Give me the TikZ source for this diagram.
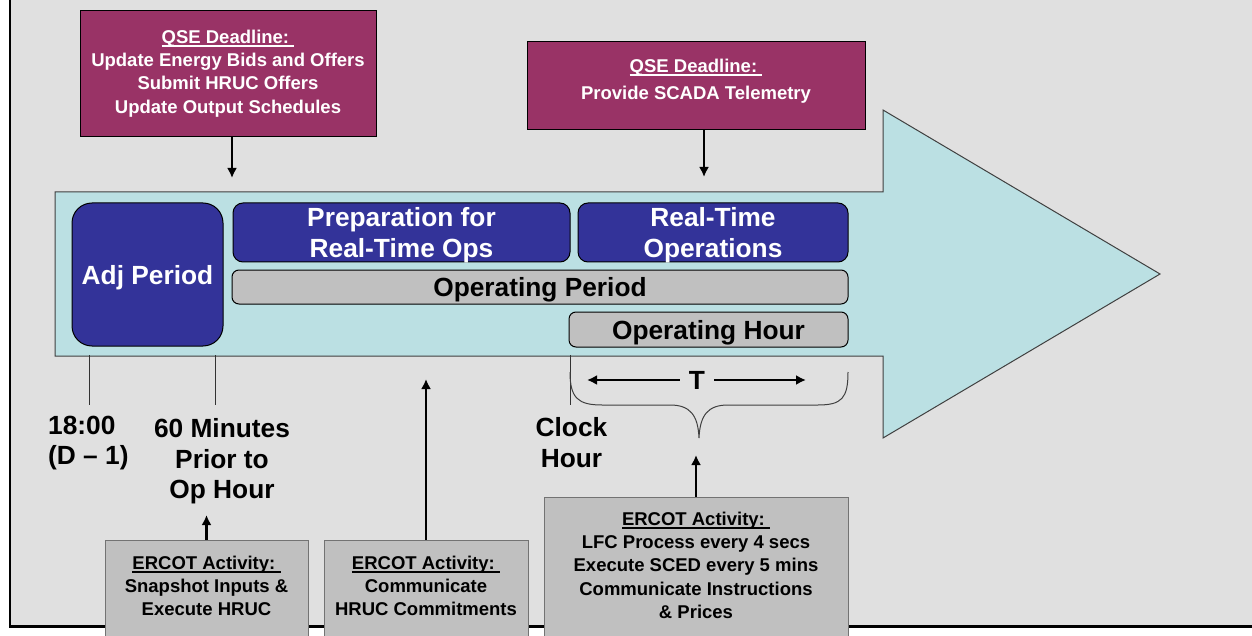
\documentclass[tikz,border=0pt]{standalone}
\usepackage{fontspec}
\setmainfont{Liberation Sans}
\usetikzlibrary{positioning,arrows.meta}

\definecolor{framegray}{HTML}{E0E0E0}
\definecolor{arrowteal}{HTML}{BBE0E3}
\definecolor{qsered}{HTML}{993366}
\definecolor{opblue}{HTML}{333399}
\definecolor{ercotgray}{HTML}{C0C0C0}

\newcommand{\boxfont}{\fontsize{18.5}{23.4}\selectfont\bfseries}
\newcommand{\labelfont}{\fontsize{26.3}{30.5}\selectfont\bfseries}
\newcommand{\ulhead}[1]{\setbox0\hbox{#1}\rlap{\rule[-4pt]{\wd0}{1.8pt}}\box0}

\begin{document}
\begin{tikzpicture}[x=1pt, y=-1pt,
    qsebox/.style={draw=black, fill=qsered, line width=1pt, inner sep=0pt},
    qsetext/.style={text=white, font=\boxfont, align=center, inner sep=0pt},
    phase/.style={draw=black, fill=opblue, line width=1pt, rounded corners=10pt,
                  text=white, font=\labelfont, align=center, inner sep=0pt, text depth=0pt},
    period/.style={draw=black, fill=ercotgray, line width=1pt, rounded corners=7pt,
                   font=\labelfont, inner sep=0pt, text depth=0pt},
    ercbox/.style={draw=black!55, fill=ercotgray, line width=1pt, inner sep=0pt},
    erctext/.style={font=\boxfont, align=center, inner sep=0pt},
    timelabel/.style={font=\labelfont, align=center, inner sep=0pt},
    arr/.style={-{Latex[length=10pt,width=10pt]}, line width=2.5pt},
    spanarr/.style={-{Latex[length=10pt,width=10pt]}, line width=2pt},
    tick/.style={draw=black!80, line width=1pt}]

        \useasboundingbox (0,0) rectangle (1252,636);

        % Gray frame with left and bottom border
        \fill[framegray] (10,-10) rectangle (1262,626);
        \draw[line width=2.5pt] (10,-10) -- (10,626.5) -- (1262,626.5);

        % Big time arrow
        \draw[draw=black!75, fill=arrowteal, line width=1pt]
              (55,192) -- (883,192) -- (883,110) -- (1160,274)
              -- (883,438) -- (883,356) -- (55,356) -- cycle;

        % QSE deadlines
        \node[qsebox, minimum width=296pt, minimum height=126pt] (qseA) at (228,74) {};
        \node[qsetext, below=19pt of qseA.north] (qseAtext)
              {\ulhead{QSE Deadline:\ }\\Update Energy Bids and Offers\\Submit HRUC Offers\\Update Output Schedules};
        \node[qsebox, minimum width=338pt, minimum height=88pt] (qseB) at (696,86) {};
        \node[qsetext, below=17pt of qseB.north] (qseBtext)
              {\ulhead{QSE Deadline:\ }\\[4pt]Provide SCADA Telemetry};

        % Periods inside the arrow
        \node[phase, rounded corners=20pt, minimum width=151pt, minimum height=143pt] (adj) at (147.5,274.5) {Adj Period};
        \node[phase, minimum width=337pt, minimum height=59pt] (prep) at (401.5,232.5) {Preparation for\\Real-Time Ops};
        \node[phase, minimum width=270pt, minimum height=59pt] (rtops) at (713,232.5) {Real-Time\\Operations};
        \node[period, minimum width=616pt, minimum height=34pt] (opperiod) at (540,287) {Operating Period};
        \node[period, minimum width=279pt, minimum height=35pt] (ophour) at (708.5,329.5) {Operating Hour};

        % Time marks below the arrow
        \coordinate (markA) at (89,355);
        \coordinate (markB) at (215,355);
        \coordinate (markC) at (570,355);
        \draw[tick] (markA) -- ++(0,50);
        \draw[tick] (markB) -- ++(0,50);
        \draw[tick] (markC) -- ++(0,50);
        \node[timelabel, align=left, anchor=north west] (dayahead) at (48,415.5) {18:00\\(D – 1)};
        \node[timelabel, anchor=north] (priorhour) at (222,418.5) {60 Minutes\\Prior to\\Op Hour};
        \node[timelabel, anchor=north] (clockhour) at (571.5,417.5) {Clock\\Hour};

        % Brace and T span
        \draw[draw=black!75, line width=1pt]
              (570,372) .. controls (570,398) and (578,405) .. (602,405) -- (670,405)
              .. controls (690,405) and (698,415) .. (699,438)
              .. controls (700,415) and (708,405) .. (728,405) -- (818,405)
              .. controls (842,405) and (848,398) .. (848,372);
        \node[timelabel, inner xsep=9pt] (T) at (697,380) {T};
        \coordinate (Tleft) at (587,380);
        \coordinate (Tright) at (806,380);
        \draw[spanarr] (T.west) -- (Tleft);
        \draw[spanarr] (T.east) -- (Tright);

        % ERCOT activities
        \node[ercbox, minimum width=203pt, minimum height=120pt] (ercA) at (206.5,600) {};
        \node[erctext, below=16pt of ercA.north] (ercAtext)
              {\ulhead{ERCOT Activity:\ }\\Snapshot Inputs \&\\Execute HRUC};
        \node[ercbox, minimum width=204pt, minimum height=120pt] (ercB) at (426,600) {};
        \node[erctext, below=16pt of ercB.north] (ercBtext)
              {\ulhead{ERCOT Activity:\ }\\Communicate\\HRUC Commitments};
        \node[ercbox, minimum width=304pt, minimum height=163pt] (ercC) at (696,578.5) {};
        \node[erctext, below=15pt of ercC.north] (ercCtext)
              {\ulhead{ERCOT Activity:\ }\\LFC Process every 4 secs\\Execute SCED every 5 mins\\Communicate Instructions\\\& Prices};

        % Arrows
        \coordinate (qseAtip) at (232,178);
        \coordinate (qseBtip) at (704,177);
        \draw[arr] (qseAtip |- qseA.south) -- (qseAtip);
        \draw[arr] (qseBtip |- qseB.south) -- (qseBtip);
        \coordinate (ercAtip) at (206.5,515);
        \coordinate (ercBtip) at (426,379);
        \coordinate (ercCtip) at (696,455);
        \draw[arr] (ercA.north) -- (ercAtip);
        \draw[arr] (ercB.north) -- (ercBtip);
        \draw[arr] (ercC.north) -- (ercCtip);

\end{tikzpicture}
\end{document}
